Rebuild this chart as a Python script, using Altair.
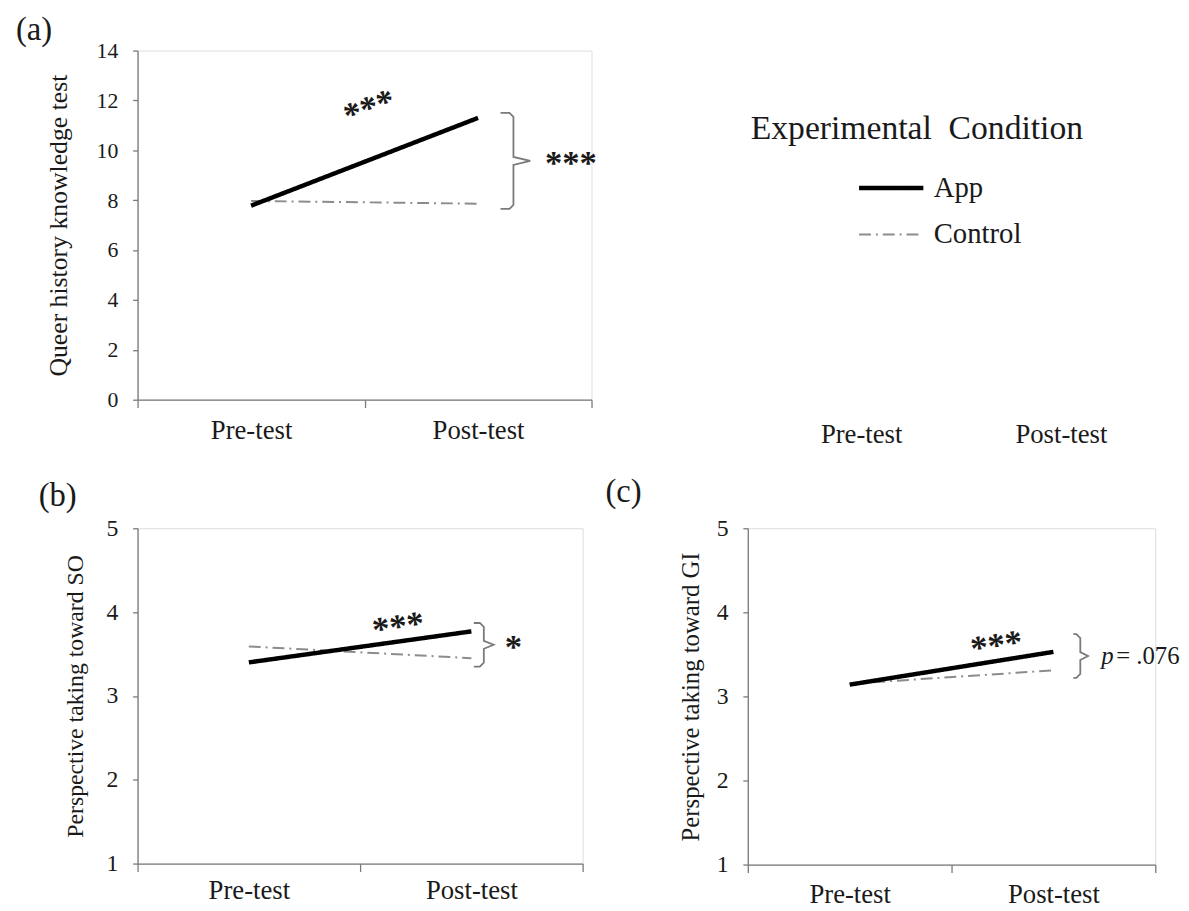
import altair as alt
import pandas as pd

FONT = "Liberation Serif"
INK = "#1a1a1a"
AXIS = "#7a7a7a"

# ---------------- data ----------------
phases = ["Pre-test", "Post-test"]
conditions = ["App", "Control"]

a_app = [7.78, 11.30]
a_control = [7.97, 7.86]
b_app = [3.40, 3.77]
b_control = [3.59, 3.45]
c_app = [3.14, 3.53]
c_control = [3.15, 3.31]

a_yticks = [0, 2, 4, 6, 8, 10, 12, 14]
bc_yticks = [1, 2, 3, 4, 5]

a_sig = ["***", "***"]
b_sig = ["***", "*"]
c_sig = ["***", "p", "= .076"]

# bracket extents (top, bottom)
a_bracket = [11.5, 7.65]
b_bracket = [3.87, 3.35]
c_bracket = [3.74, 3.22]

a_title = "Queer history knowledge test"
b_title = "Perspective taking toward SO"
c_title = "Perspective taking toward GI"
legend_title = "Experimental\u00a0 Condition"
panel_labels = ["(a)", "(b)", "(c)"]

color_scale = alt.Scale(domain=conditions, range=["#000000", "#8c8c8c"])
dash_scale = alt.Scale(domain=conditions, range=[[1, 0], [12, 5, 2, 5]])
width_scale = alt.Scale(domain=conditions, range=[4.5, 2])

label_expr = (
    f"datum.value == 0.5 ? '{phases[0]}' : datum.value == 1.5 ? '{phases[1]}' : ''"
)


def line_frame(app, ctrl):
    rows = []
    for cond, vals in (("App", app), ("Control", ctrl)):
        for i, (ph, v) in enumerate(zip(phases, vals)):
            rows.append({"condition": cond, "phase": ph, "pos": i + 0.5, "value": v})
    return pd.DataFrame(rows)


def make_panel(app, ctrl, ydom, yticks, ytitle, width, height, tick_fs, title_fs,
               title_pad, xlab_pad, label, label_xy, star_xy, star_angle, br_x,
               br_vals, br_label, legend):
    df = line_frame(app, ctrl)
    x_enc = alt.X(
        "pos:Q",
        scale=alt.Scale(domain=[0, 2], nice=False, zero=False),
        axis=alt.Axis(
            title=None, values=[0, 0.5, 1, 1.5, 2], labelExpr=label_expr,
            tickOpacity={"condition": {"test": "datum.value == 0.5 || datum.value == 1.5",
                                       "value": 0}, "value": 1},
            grid=False, tickSize=8, labelPadding=xlab_pad, labelFontSize=27,
            labelFont=FONT, labelColor=INK, domainColor=AXIS, tickColor=AXIS,
            domainWidth=1.3, tickWidth=1.3, labelOverlap=False, labelFlush=False,
            labelAngle=0,
        ),
    )
    y_enc = alt.Y(
        "value:Q",
        scale=alt.Scale(domain=ydom, nice=False, zero=False),
        axis=alt.Axis(
            values=yticks, title=ytitle, grid=False, tickSize=5, labelPadding=15,
            labelFontSize=tick_fs, labelFont=FONT, labelColor=INK, format="d",
            titleFont=FONT, titleFontSize=title_fs, titleFontWeight="normal",
            titleColor=INK, titlePadding=title_pad, domainColor=AXIS,
            tickColor=AXIS, domainWidth=1.3, tickWidth=1.3,
        ),
    )
    enc = dict(
        color=alt.Color("condition:N", scale=color_scale, legend=legend),
        strokeDash=alt.StrokeDash("condition:N", scale=dash_scale, legend=legend),
        strokeWidth=alt.StrokeWidth("condition:N", scale=width_scale, legend=legend),
    )
    base = alt.Chart(df)
    ctrl_line = base.transform_filter(alt.datum.condition == "Control").mark_line(
        strokeCap="butt").encode(x=x_enc, y=y_enc, **enc)
    app_line = base.transform_filter(alt.datum.condition == "App").mark_line(
        strokeCap="butt").encode(x=x_enc, y=y_enc, **enc)

    star_df = pd.DataFrame({"pos": [star_xy[0]], "value": [star_xy[1]], "t": [br_label[0]]})
    stars = alt.Chart(star_df).mark_text(
        font=FONT, fontSize=35, fontWeight="bold", angle=star_angle,
        baseline="middle", align="center", dy=5, color=INK,
    ).encode(x="pos:Q", y="value:Q", text="t:N")

    # curly bracket between the post-test values
    top, bot = br_vals
    mid = (top + bot) / 2
    hook, vert, nub = br_x[0], br_x[1], br_x[2]
    ux = 2 / width * 4
    uy = (ydom[1] - ydom[0]) / height * 4
    br_pts = [
        (hook, top), (vert - ux, top), (vert, top - uy), (vert, mid + uy),
        (nub, mid), (vert, mid - uy), (vert, bot + uy), (vert - ux, bot), (hook, bot),
    ]
    br_df = pd.DataFrame({"pos": [p[0] for p in br_pts], "value": [p[1] for p in br_pts],
                          "ord": list(range(len(br_pts)))})
    bracket = alt.Chart(br_df).mark_line(color="#7a7a7a", strokeWidth=1.8).encode(
        x="pos:Q", y="value:Q", order="ord:Q")

    lab = alt.Chart(pd.DataFrame({"t": [label]})).mark_text(
        font=FONT, fontSize=33, align="left", baseline="bottom", color=INK,
    ).encode(text="t:N", x=alt.value(label_xy[0]), y=alt.value(label_xy[1]))

    layers = [ctrl_line, app_line, stars, bracket, lab]
    if len(br_label) == 2:
        lab_df = pd.DataFrame({"pos": [br_x[3]], "value": [mid], "t": [br_label[1]]})
        layers.append(alt.Chart(lab_df).mark_text(
            font=FONT, fontSize=35, fontWeight="bold", baseline="middle",
            align="left", dy=2, color=INK).encode(x="pos:Q", y="value:Q", text="t:N"))
    else:
        p_df = pd.DataFrame({"pos": [br_x[3]], "value": [mid], "t": [br_label[1]]})
        layers.append(alt.Chart(p_df).mark_text(
            font=FONT, fontSize=25, fontStyle="italic", baseline="middle",
            align="left", color=INK).encode(x="pos:Q", y="value:Q", text="t:N"))
        r_df = pd.DataFrame({"pos": [br_x[3]], "value": [mid], "t": [br_label[2]]})
        layers.append(alt.Chart(r_df).mark_text(
            font=FONT, fontSize=25, baseline="middle", align="left", dx=15,
            color=INK).encode(x="pos:Q", y="value:Q", text="t:N"))

    return alt.layer(*layers).properties(width=width, height=height)


legend = alt.Legend(
    orient="none", legendX=727, legendY=124, title=None, symbolType="stroke",
    symbolSize=4225, labelFont=FONT, labelFontSize=29, labelColor=INK,
    labelOffset=8, clipHeight=30, rowPadding=17,
)

panel_a = make_panel(
    a_app, a_control, [0, 14], a_yticks, a_title, 459, 353, 22, 26, 25, 10,
    panel_labels[0], (-123, -4), (1.015, 11.86), 340, [1.599, 1.656, 1.730, 1.795],
    a_bracket, a_sig, legend,
)
panel_b = make_panel(
    b_app, b_control, [1, 5], bc_yticks, b_title, 450, 339, 24, 24, 19, 6,
    panel_labels[1], (-100, -16), (1.169, 3.88), 351, [1.511, 1.556, 1.600, 1.650],
    b_bracket, b_sig, None,
)
panel_c = make_panel(
    c_app, c_control, [1, 5], bc_yticks, c_title, 412, 340, 24, 25, 13, 9,
    panel_labels[2], (-144, -20), (1.218, 3.66), 351, [1.598, 1.632, 1.670, 1.735],
    c_bracket, c_sig, None,
)

# right-hand legend cell with the leftover phase labels
leg_df = pd.DataFrame({"phase": phases})
leg_axis = alt.Chart(leg_df).mark_point(opacity=0).encode(
    x=alt.X("phase:N", sort=phases,
            scale=alt.Scale(type="band", paddingInner=0, paddingOuter=0.035, align=1),
            axis=alt.Axis(title=None, domain=False, ticks=False, tickSize=0,
                          labelPadding=22, labelFontSize=27, labelFont=FONT,
                          labelColor=INK, labelAngle=0)),
)
leg_title = alt.Chart(pd.DataFrame({"t": [legend_title]})).mark_text(
    font=FONT, fontSize=34, align="left", baseline="alphabetic", color=INK,
).encode(text="t:N", x=alt.value(3), y=alt.value(89))
legend_cell = alt.layer(leg_axis, leg_title).properties(
    width=418, height=353,
    view=alt.ViewBackground(stroke="transparent", strokeWidth=0),
)

chart = alt.concat(
    panel_a, legend_cell, panel_b, panel_c, columns=2, bounds="flush",
    spacing={"row": 130, "column": 158},
).resolve_scale(
    color="independent", strokeDash="independent", strokeWidth="independent"
).resolve_legend(
    color="independent", strokeDash="independent", strokeWidth="independent"
).properties(
    padding={"left": 7, "top": 0, "right": 0, "bottom": 5}
).configure_view(strokeWidth=0, stroke="transparent").configure(background="white")

chart.save("out.html", embed_options={"renderer": "svg", "actions": False})
